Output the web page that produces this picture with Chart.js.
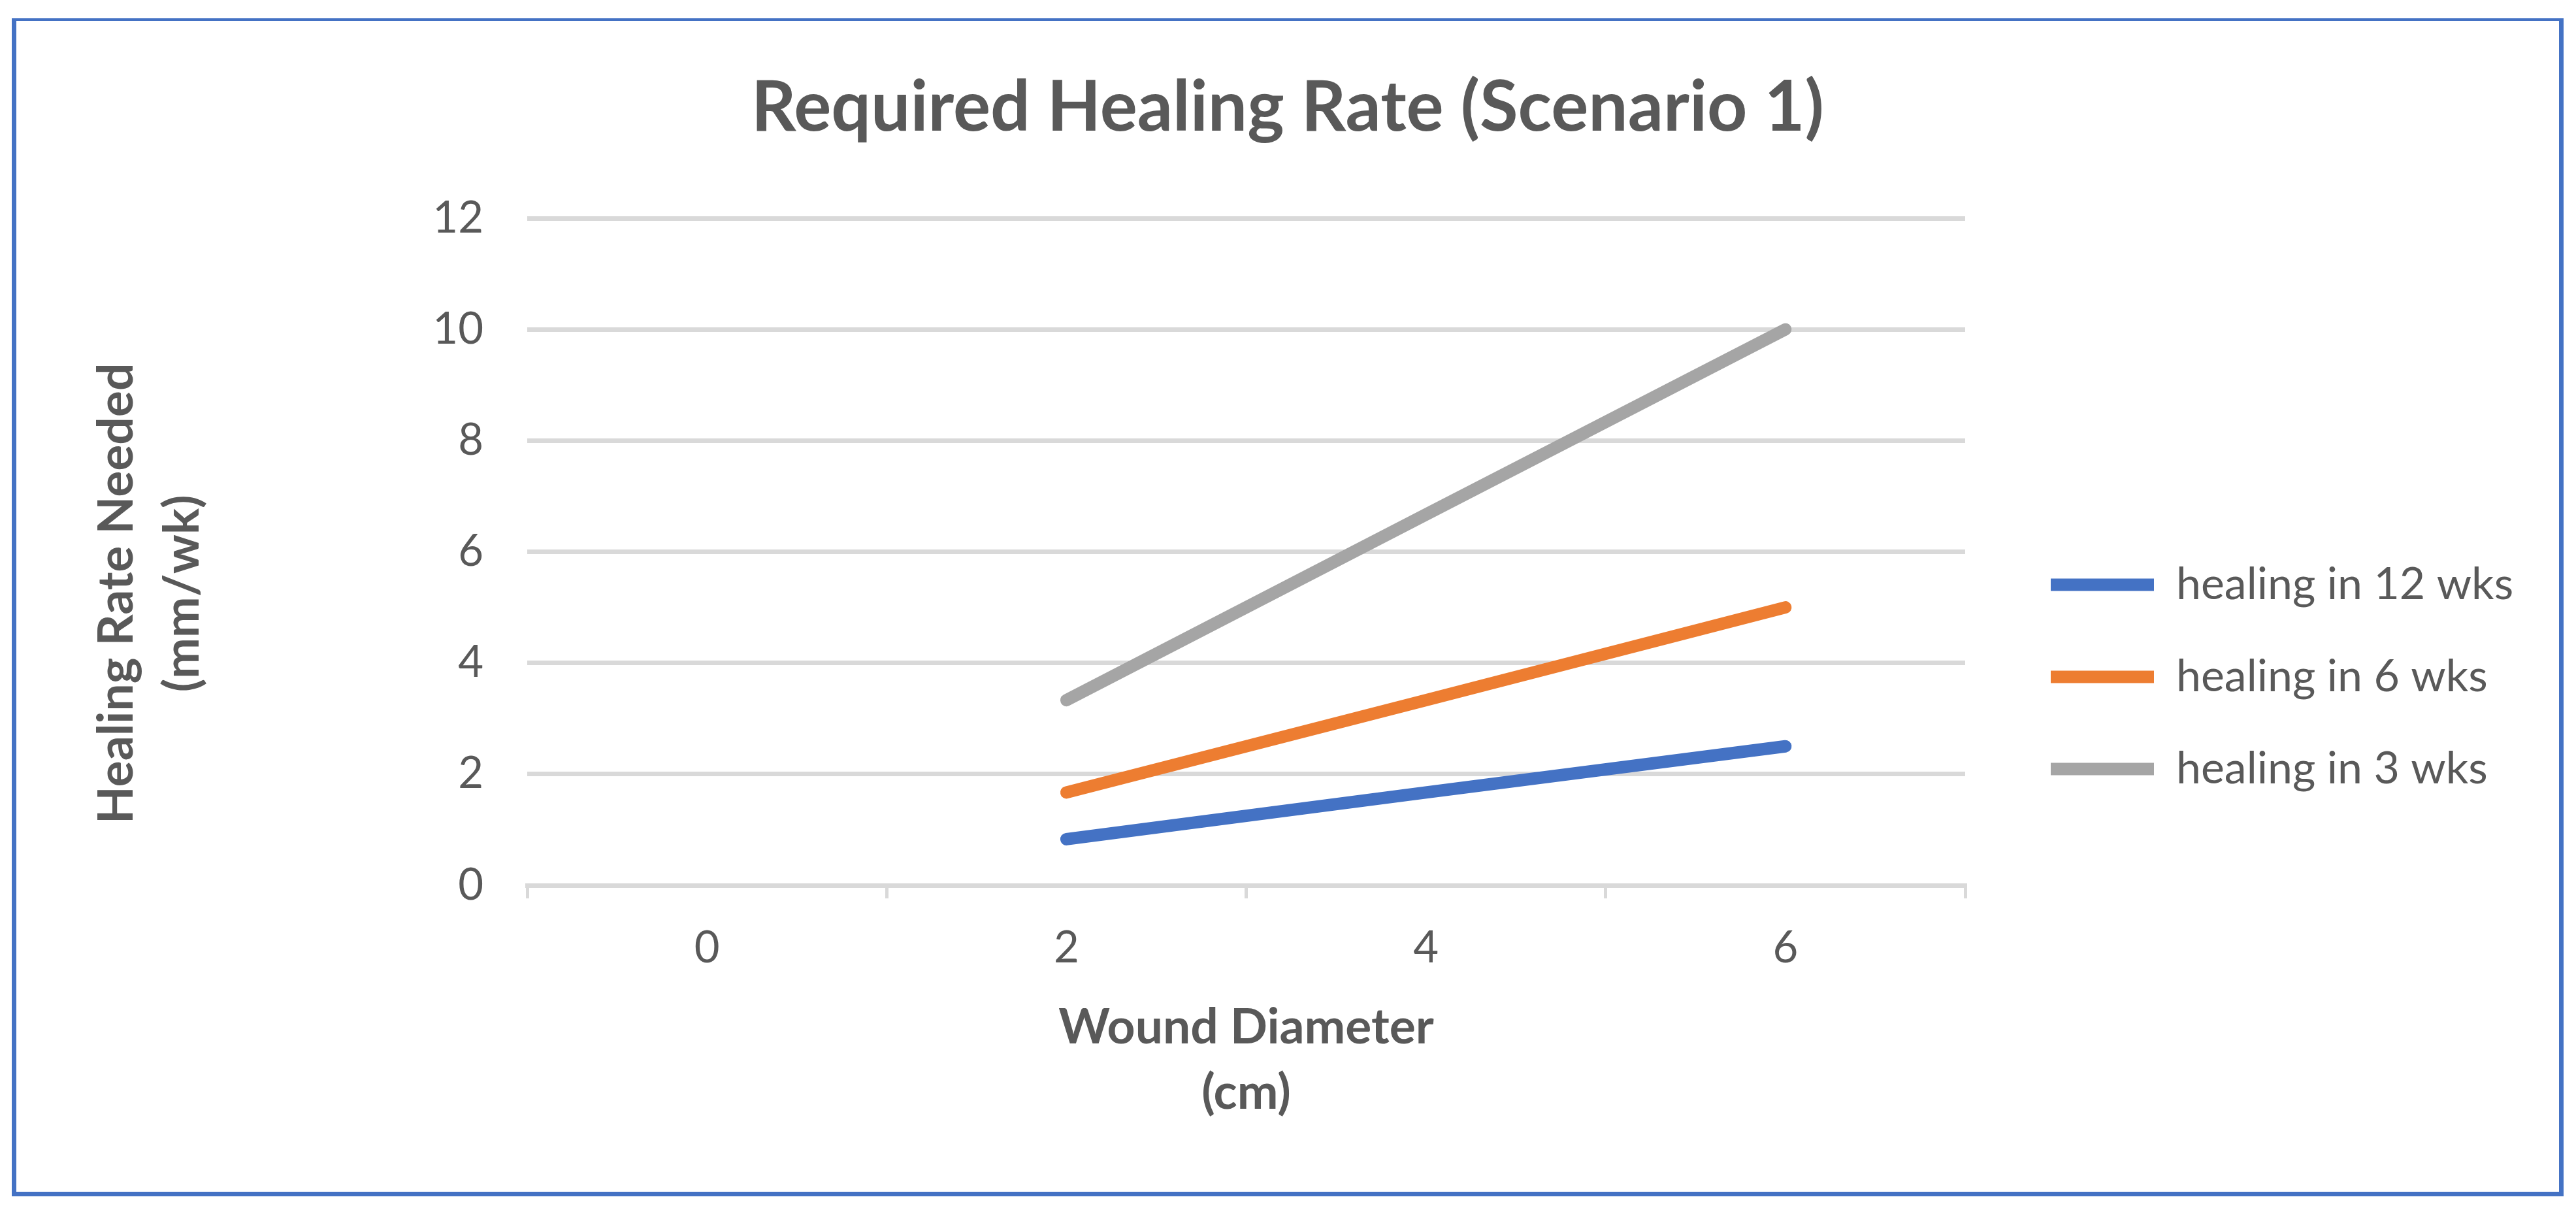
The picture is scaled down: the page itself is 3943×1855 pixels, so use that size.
<!DOCTYPE html>
<html>
<head>
<meta charset="utf-8">
<script src="https://cdn.jsdelivr.net/npm/chart.js@4"></script>
<style>
  html, body { margin: 0; padding: 0; background: #ffffff; overflow: hidden; }
  #wrap { position: relative; width: 3943px; height: 1855px; }
  #c { position: absolute; left: 0; top: 0; width: 3943px; height: 1855px; }
  #frame { position: absolute; left: 18px; top: 28px; width: 3906px; height: 1803px;
           box-sizing: border-box; border: 7px solid #4472C4; border-top-width: 4px; pointer-events: none; }
</style>
</head>
<body>
<div id="wrap">
  <canvas id="c" width="3943" height="1855"></canvas>
  <div id="frame"></div>
</div>
<script>
// ---- data ----
const categories = ['0', '2', '4', '6'];
const heal12 = [null, 0.83, 1.67, 2.5];
const heal6  = [null, 1.67, 3.33, 5.0];
const heal3  = [null, 3.33, 6.67, 10.0];
const seriesNames = ['healing in 12 wks', 'healing in 6 wks', 'healing in 3 wks'];
const titleText = 'Required Healing Rate (Scenario 1)';
const yTitle = ['Healing Rate Needed', '(mm/wk)'];
const xTitle = ['Wound Diameter', '(cm)'];

// ---- style ----
const FONT = 'Lato, "Open Sans", "Noto Sans", sans-serif';
const TXT = '#595959';
const GRID = '#D9D9D9';
const colors = ['#4472C4', '#ED7D31', '#A5A5A5'];

const W = 3943;
const AREA_LEFT = 807, AREA_RIGHT = 3008, AREA_BOTTOM = 1355;
const GAP_RIGHT = 58;
const P = { top: 30, left: 0, right: 0, bottom: -187 };
const Y_TITLE_FONT = { family: FONT, size: 75, weight: 'bold', lineHeight: 1.35 };

// the y title in the reference sits ~66px below the plot-area centre:
// pad the end of each line (rotated text reads upward) to shift it down
const mctx = document.createElement('canvas').getContext('2d');
mctx.font = 'bold 75px ' + FONT;
const spaceW = mctx.measureText(' ').width || 15;
const nSp = Math.max(0, Math.round(132 / spaceW));
const yTitleShifted = yTitle.map(t => t + ' '.repeat(nSp));

function ds(label, data, color) {
  return {
    label, data,
    borderColor: color, backgroundColor: color,
    borderWidth: 19, borderCapStyle: 'round', borderJoinStyle: 'round',
    pointRadius: 0, pointHoverRadius: 0, tension: 0, spanGaps: false, fill: false
  };
}

const config = {
  type: 'line',
  data: {
    labels: categories,
    datasets: [
      ds(seriesNames[0], heal12, colors[0]),
      ds(seriesNames[1], heal6, colors[1]),
      ds(seriesNames[2], heal3, colors[2])
    ]
  },
  options: {
    responsive: false,
    devicePixelRatio: 1,
    animation: false,
    events: [],
    layout: { padding: P },
    plugins: {
      tooltip: { enabled: false },
      title: {
        display: true, text: titleText, color: TXT,
        font: { family: FONT, size: 107, weight: 'bold', lineHeight: 1.2 },
        padding: { top: 71, bottom: 104.6 }
      },
      legend: {
        display: true, position: 'right', align: 'center', maxWidth: 2000,
        labels: {
          color: TXT, font: { family: FONT, size: 68 },
          usePointStyle: true, pointStyle: 'line', pointStyleWidth: 158,
          padding: 73
        }
      }
    },
    scales: {
      x: {
        type: 'category', offset: true,
        grid: { display: true, drawOnChartArea: false, drawTicks: true, tickLength: 20,
                offset: true, color: GRID, lineWidth: 5 },
        border: { display: true, color: GRID, width: 7 },
        ticks: { color: TXT, font: { family: FONT, size: 67 }, padding: 36, maxRotation: 0 },
        title: { display: true, text: xTitle, color: TXT,
                 font: { family: FONT, size: 75, weight: 'bold', lineHeight: 1.333 },
                 padding: { top: 0, bottom: 319 } },
        afterFit: s => { s.height = (1855 - P.bottom) - AREA_BOTTOM; }
      },
      y: {
        type: 'linear', position: 'left', min: 0, max: 12,
        grid: { color: GRID, lineWidth: 7, drawTicks: false },
        border: { display: false },
        ticks: { stepSize: 2, color: TXT, font: { family: FONT, size: 67 }, padding: 67 },
        title: { display: true, text: yTitleShifted, color: TXT, font: Y_TITLE_FONT,
                 padding: { top: 128, bottom: 0 } },
        afterFit: s => { s.width = AREA_LEFT - P.left; }
      },
      gap: {
        type: 'linear', position: 'right', display: true,
        grid: { display: false }, border: { display: false },
        ticks: { display: false }, title: { display: false },
        afterFit: s => { s.width = GAP_RIGHT; }
      }
    }
  }
};

const chart = new Chart(document.getElementById('c'), config);
// fit side padding so the plot area ends where the reference's does
const lw = chart.legend.width;
const R = W - AREA_RIGHT - GAP_RIGHT - lw;
P.right = R;
P.left = R - 1;
chart.options.layout.padding = P;
chart.options.scales.y.title.padding = { top: 128 - P.left, bottom: 0 };
chart.update();
</script>
</body>
</html>
